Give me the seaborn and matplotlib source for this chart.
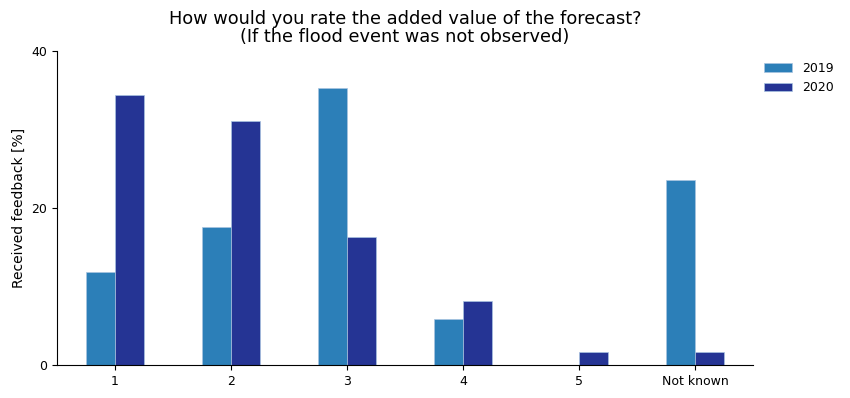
import matplotlib
matplotlib.use("Agg")
import matplotlib.pyplot as plt
import seaborn as sns
import pandas as pd

categories = ["1", "2", "3", "4", "5", "Not known"]
years = ["2019", "2020"]
values_2019 = [11.8, 17.6, 35.3, 5.9, 0.0, 23.6]
values_2020 = [34.4, 31.1, 16.3, 8.2, 1.6, 1.6]

df = pd.DataFrame({
    "category": categories * 2,
    "year": [years[0]] * len(categories) + [years[1]] * len(categories),
    "value": values_2019 + values_2020,
})

sns.set_style("ticks", {"axes.edgecolor": "black", "text.color": "black",
                        "xtick.color": "black", "ytick.color": "black",
                        "axes.labelcolor": "black"})
plt.rcParams['font.family'] = ['DejaVu Sans']

fig = plt.figure(figsize=(8.5, 3.98), dpi=100)
ax = fig.add_axes([0.067, 0.083, 0.819, 0.789])
sns.barplot(data=df, x="category", y="value", hue="year", order=categories,
            hue_order=years, palette=["#2c7fb8", "#253494"], width=0.5,
            saturation=1, edgecolor="#a9c4e0", linewidth=0.5, ax=ax)
ax.set_xlim(-0.5, 5.5)
ax.set_ylim(0, 40)
ax.set_yticks([0, 20, 40])
ax.set_xlabel("")
ax.set_ylabel("Received feedback [%]", fontsize=10)
ax.tick_params(labelsize=9)
ax.set_title("How would you rate the added value of the forecast?\n(If the flood event was not observed)",
             fontsize=12.8, linespacing=1.0, pad=6.5)
sns.despine(ax=ax)
ax.legend(loc="upper left", bbox_to_anchor=(1.0, 1.0), frameon=False, fontsize=9,
          handlelength=2.2)
fig.savefig("out.png", dpi=100)
